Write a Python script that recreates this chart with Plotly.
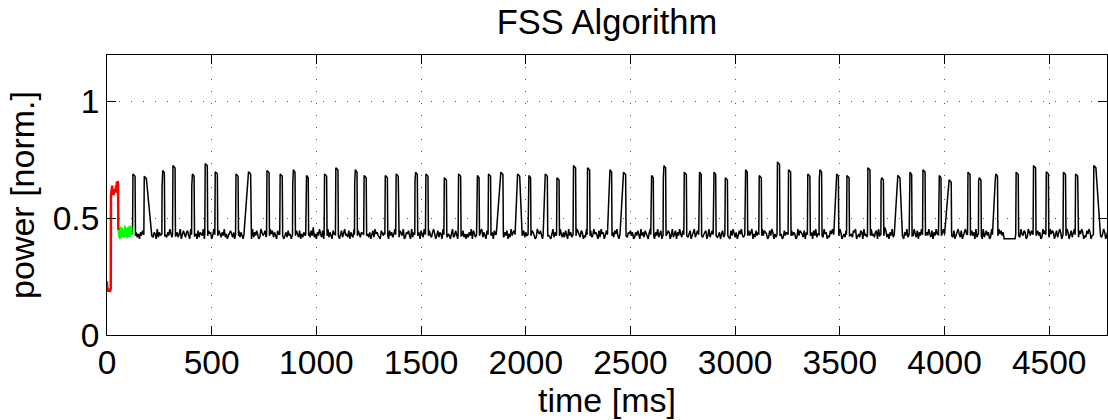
import plotly.graph_objects as go

# ---------------- data ----------------
# Red phase (start-up), time in ms, power normalised
red_t = [0, 2, 4, 6, 8, 10, 12, 14, 16, 18, 19, 21, 23, 25, 27, 29, 31, 33, 35, 37, 39, 41, 43, 45, 47, 49, 51, 53, 54]
red_v = [0.23, 0.19, 0.20, 0.185, 0.195, 0.19, 0.20, 0.185, 0.19, 0.20, 0.60, 0.61, 0.63, 0.64, 0.61, 0.62, 0.60, 0.615, 0.61, 0.625, 0.62, 0.61, 0.64, 0.62, 0.655, 0.63, 0.66, 0.65, 0.45]

# Green phase (settling)
green_t = [54, 56, 58, 60, 62, 64, 66, 68, 70, 72, 74, 76, 78, 80, 82, 84, 86, 88, 90, 92,
           94, 96, 98, 100, 102, 104, 106, 108, 110, 112, 114, 116, 118, 120]
green_v = [0.45, 0.42, 0.46, 0.41, 0.44, 0.43, 0.465, 0.415, 0.45, 0.42, 0.46, 0.425, 0.44, 0.415, 0.455, 0.43, 0.47, 0.42, 0.44, 0.425,
           0.46, 0.415, 0.45, 0.43, 0.465, 0.42, 0.445, 0.425, 0.47, 0.42, 0.455, 0.43, 0.465, 0.43]

# Black phase baseline: one reading every 5 ms from 120 ms,
# coded as digits d -> power = base_lo + d * base_step
base_t0 = 120
base_dt = 5
base_lo = 0.412
base_step = 0.007
base_code = (
    "31524130425316204352143061423503214263150424136025314520631423051432604215340261"
    "42053142613024531406235142073125430614253016423514026351420531624034152306142531"
    "50314263041527130426315024361420531742035146231504216340521436205314025163421053"
    "24163052413620415326014352061423714053162430521463025143062541320461253041625130"
    "31426053142035614205316240531420736142503162453014260351426031542016435206143521"
    "03614252063141530624135026431540216340512634205163402513620415362041352061435240"
    "14253062415320461530426135042613540261350426315042613502461354026134502613540261"
    "24035162431052631402536214031524603152430162543015264031254630152436015243016254"
    "31504263140526134025163402153640215364023154602315460231540623154062314506231407"
    "51304261530426153042615304263150426315042631504263150246315024631502463150246315"
    "13524061352406135240163524016352401632540163254016325401632540163524016352401635"
    "40251364025136402513640215364021536402153640251364025136402513640215364021536402"
)

# flat stretch (no fluctuation) in the black phase
gap_start, gap_end, gap_level = 4290, 4337, 0.413

# spikes: onset time [ms], peak, intermediate step level (0 = none), rise [ms], fall [ms]
spike_t = [123, 177, 263, 314, 405, 468, 516, 615, 675, 763, 826, 887, 950, 1038, 1092, 1183,
           1227, 1328, 1380, 1471, 1522, 1610, 1678, 1766, 1821, 1880, 1960, 2012, 2092, 2148,
           2227, 2294, 2399, 2466, 2598, 2657, 2756, 2827, 2896, 2952, 3047, 3114, 3201, 3254,
           3346, 3402, 3482, 3533, 3633, 3697, 3776, 3832, 3896, 3972, 4021, 4111, 4163, 4242,
           4341, 4424, 4485, 4567, 4625, 4712]
spike_h = [0.69, 0.68, 0.705, 0.726, 0.69, 0.735, 0.70, 0.69, 0.70, 0.705, 0.69, 0.708, 0.684, 0.69, 0.717, 0.708,
           0.684, 0.684, 0.69, 0.698, 0.69, 0.674, 0.69, 0.684, 0.69, 0.698, 0.69, 0.684, 0.69, 0.674,
           0.726, 0.717, 0.708, 0.698, 0.684, 0.726, 0.698, 0.698, 0.698, 0.674, 0.708, 0.684, 0.741, 0.708,
           0.69, 0.708, 0.69, 0.684, 0.717, 0.674, 0.684, 0.698, 0.708, 0.684, 0.665, 0.698, 0.674, 0.69,
           0.698, 0.726, 0.70, 0.698, 0.69, 0.726]
spike_step = [0, 0, 0.63, 0, 0.64, 0, 0, 0, 0, 0, 0, 0.64, 0.66, 0, 0, 0.65,
              0, 0, 0, 0.66, 0, 0, 0, 0.65, 0, 0, 0, 0.65, 0, 0,
              0, 0, 0.66, 0, 0.66, 0.67, 0, 0.67, 0.66, 0, 0.67, 0, 0, 0,
              0, 0.67, 0.67, 0, 0, 0.66, 0, 0.65, 0, 0.67, 0, 0, 0.66, 0.66,
              0, 0, 0, 0, 0, 0]
spike_rise = [0, 0, 0, 0, 0, 0, 0, 0, 20, 0, 0, 0, 0, 0, 0, 0,
              0, 0, 0, 0, 0, 0, 0, 0, 0, 20, 10, 0, 8, 0,
              0, 0, 8, 15, 0, 0, 0, 0, 0, 0, 0, 0, 0, 0,
              0, 0, 10, 0, 0, 0, 15, 0, 0, 0, 20, 0, 0, 12,
              0, 0, 0, 0, 0, 0]
spike_fall = [0, 24, 0, 0, 0, 0, 0, 0, 0, 0, 0, 0, 0, 0, 0, 0,
              0, 0, 0, 0, 0, 0, 0, 0, 0, 0, 10, 0, 0, 0,
              0, 0, 0, 0, 0, 0, 0, 0, 0, 0, 0, 0, 0, 0,
              0, 0, 0, 0, 0, 0, 10, 0, 0, 0, 0, 0, 0, 0,
              0, 0, 0, 0, 0, 20]
spike_width = 11

# ---------------- build the black trace from the arrays ----------------
pts = []
blocked = [(gap_start, gap_end)]
for t, h, s, r, f in zip(spike_t, spike_h, spike_step, spike_rise, spike_fall):
    blocked.append((t - r - 2, t + spike_width + f + 3))

for i, ch in enumerate(base_code):
    t = base_t0 + i * base_dt
    if any(a <= t <= b for a, b in blocked):
        continue
    pts.append((t, base_lo + int(ch) * base_step))

pts.append((gap_start, gap_level))
pts.append((gap_end, gap_level))

for t, h, s, r, f in zip(spike_t, spike_h, spike_step, spike_rise, spike_fall):
    pts.append((t - r - 1, 0.43))
    if s:
        pts.append((t, s))
        pts.append((t + 3, h))
    else:
        pts.append((t + 1, h))
    pts.append((t + spike_width, h - 0.01))
    pts.append((t + spike_width + f + 2, 0.425))

pts.sort()
black_t = [p[0] for p in pts]
black_v = [p[1] for p in pts]

# ---------------- figure ----------------
fig = go.Figure()
fig.add_trace(go.Scatter(x=black_t, y=black_v, mode="lines",
                         line=dict(color="black", width=1.5), hoverinfo="skip"))
fig.add_trace(go.Scatter(x=green_t, y=green_v, mode="lines",
                         line=dict(color="#00ff00", width=1.5), hoverinfo="skip"))
fig.add_trace(go.Scatter(x=red_t, y=red_v, mode="lines",
                         line=dict(color="#ff0000", width=2.5), hoverinfo="skip"))

FONT = "Liberation Sans, Arial, Helvetica, sans-serif"
axis_common = dict(
    showline=True, linecolor="black", linewidth=1, mirror="ticks",
    ticks="inside", ticklen=9, tickwidth=1, tickcolor="black",
    showgrid=True, gridcolor="#555555", gridwidth=1, griddash="1px,11px",
    zeroline=False, automargin=False,
    tickfont=dict(size=33.5, color="black", family=FONT),
)

fig.update_xaxes(range=[0, 4776], tickvals=[0, 500, 1000, 1500, 2000, 2500, 3000, 3500, 4000, 4500],
                 ticklabelstandoff=-2,
                 title=dict(text="time [ms]", font=dict(size=34, family=FONT, color="black"), standoff=7),
                 **axis_common)
fig.update_yaxes(range=[0, 1.2], tickvals=[0, 0.5, 1], ticktext=["0", "0.5", "1"],
                 title=dict(text="power [norm.]", font=dict(size=34, family=FONT, color="black"), standoff=7),
                 **axis_common)

fig.update_layout(
    width=1108, height=420,
    margin=dict(l=107, r=1, t=55, b=85),
    plot_bgcolor="white", paper_bgcolor="white",
    showlegend=False,
    font=dict(family=FONT, color="black"),
    title=dict(text="FSS Algorithm", xref="paper", x=0.5, xanchor="center",
               yref="container", y=0.948, yanchor="middle",
               font=dict(size=34.5, family=FONT, color="black")),
)

fig.write_html("out.html", config={"displayModeBar": False},
               post_script="document.body.style.margin='0';")
